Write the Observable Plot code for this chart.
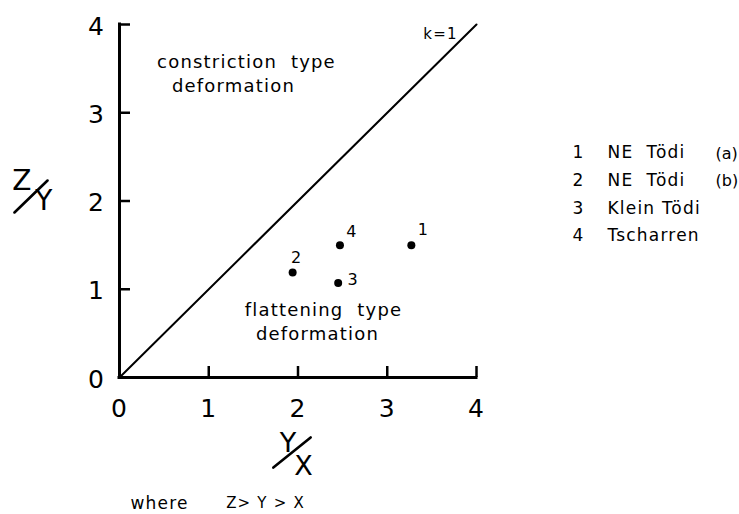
<!DOCTYPE html>
<html><head><meta charset="utf-8">
<script src="https://cdn.jsdelivr.net/npm/d3@7"></script>
<script src="https://cdn.jsdelivr.net/npm/@observablehq/plot@0.6"></script>
<style>body{margin:0;background:#fff;} #chart svg{display:block;}</style>
</head><body><div id="chart"></div>
<script>
// Data
const ids = ["1", "2", "3", "4"];
const yOverX = [3.27, 1.94, 2.45, 2.47];
const zOverY = [1.50, 1.19, 1.07, 1.50];
const names = ["NE  Tödi", "NE  Tödi", "Klein Tödi", "Tscharren"];
const suffixes = ["(a)", "(b)", "", ""];
const xTicks = [0, 1, 2, 3, 4];
const yTicks = [0, 1, 2, 3, 4];
const kLine = [0, 4];

const points = ids.map((id, i) => ({id, x: yOverX[i], y: zOverY[i]}));
const labelOffsets = {"1": [12, -15], "2": [4, -15], "3": [15, -3], "4": [12, -13]};

const W = 739, H = 514, mL = 119, mR = 263, mT = 24, mB = 137;
const plotW = W - mL - mR, plotH = H - mT - mB;
const font = "DejaVu Sans";
const C = {textAnchor: "middle", lineAnchor: "middle"};
const slashShape = {draw(context, l) { context.moveTo(0, 0); context.lineTo(0, -l); }};

const chart = Plot.plot({
  width: W, height: H,
  marginLeft: mL, marginRight: mR, marginTop: mT, marginBottom: mB,
  x: {domain: [0, 4], axis: null},
  y: {domain: [0, 4], axis: null},
  style: {fontFamily: font, color: "#000", background: "#fff", letterSpacing: "1.2px"},
  marks: [
    // axes
    Plot.ruleY([0], {x1: 0, x2: 4, strokeWidth: 3, strokeLinecap: "square"}),
    Plot.ruleX([0], {y1: 0, y2: 4, strokeWidth: 3, strokeLinecap: "square"}),
    Plot.tickX(xTicks.slice(1), {x: d => d, insetTop: plotH - 11, strokeWidth: 2.5}),
    Plot.tickY(yTicks.slice(1), {y: d => d, insetRight: plotW - 11, strokeWidth: 2.5}),
    Plot.text(xTicks, {...C, x: d => d, frameAnchor: "bottom", dy: 31, text: d => String(d), fontSize: 25}),
    Plot.text(yTicks, {...C, y: d => d, frameAnchor: "left", dx: -23, dy: 2, text: d => String(d), fontSize: 25}),
    // k = 1 line
    Plot.line(kLine.map(v => [v, v]), {strokeWidth: 2}),
    Plot.text(["k=1"], {...C, frameAnchor: "top-right", dx: -36, dy: 10, fontSize: 15}),
    // region labels
    Plot.text(["constriction  type"], {...C, frameAnchor: "top-left", dx: 127, dy: 38, fontSize: 18}),
    Plot.text(["deformation"], {...C, frameAnchor: "top-left", dx: 114, dy: 62, fontSize: 18}),
    Plot.text(["flattening  type"], {...C, frameAnchor: "top-left", dx: 204, dy: 286, fontSize: 18}),
    Plot.text(["deformation"], {...C, frameAnchor: "top-left", dx: 198, dy: 310, fontSize: 18}),
    // points
    Plot.dot(points, {x: "x", y: "y", r: 4, fill: "#000", stroke: null}),
    ...points.map(p => Plot.text([p], {...C, x: "x", y: "y", text: "id", dx: labelOffsets[p.id][0], dy: labelOffsets[p.id][1], fontSize: 16})),
    // legend
    Plot.text([ids.join("\n")], {...C, frameAnchor: "top-right", dx: 102, dy: 166.5, lineHeight: 1.63, fontSize: 17}),
    Plot.text([names.join("\n")], {...C, frameAnchor: "top-right", dx: 131, dy: 166.5, lineHeight: 1.63, fontSize: 17, textAnchor: "start"}),
    Plot.text([suffixes.join("\n")], {...C, frameAnchor: "top-right", dx: 239, dy: 166.5, lineHeight: 1.7, fontSize: 16, textAnchor: "start"}),
    // axis titles Z/Y and Y/X
    Plot.text(["Z"], {...C, frameAnchor: "left", dx: -97, dy: -19.5, fontSize: 28}),
    Plot.vector([0], {frameAnchor: "left", dx: -88.5, dy: -4.5, length: 46, rotate: 46, shape: slashShape, anchor: "middle", strokeWidth: 2.6}),
    Plot.text(["Y"], {...C, frameAnchor: "left", dx: -75, dy: 0.5, fontSize: 28}),
    Plot.text(["Y"], {...C, frameAnchor: "bottom", dx: -9.5, dy: 66, fontSize: 27}),
    Plot.vector([0], {frameAnchor: "bottom", dx: -6, dy: 75, length: 48, rotate: 51, shape: slashShape, anchor: "middle", strokeWidth: 2.6}),
    Plot.text(["X"], {...C, frameAnchor: "bottom", dx: 6, dy: 89, fontSize: 27}),
    // note
    Plot.text(["where"], {...C, frameAnchor: "bottom-left", dx: 40, dy: 126, fontSize: 17}),
    Plot.text(["Z> Y > X"], {...C, frameAnchor: "bottom-left", dx: 146, dy: 126, fontSize: 15})
  ]
});
// tighter spacing for the narrow legend suffix column
chart.querySelectorAll("text").forEach(t => {
  if (t.textContent.startsWith("(a)")) t.style.letterSpacing = "0px";
});
document.getElementById("chart").append(chart);
</script>
</body></html>
